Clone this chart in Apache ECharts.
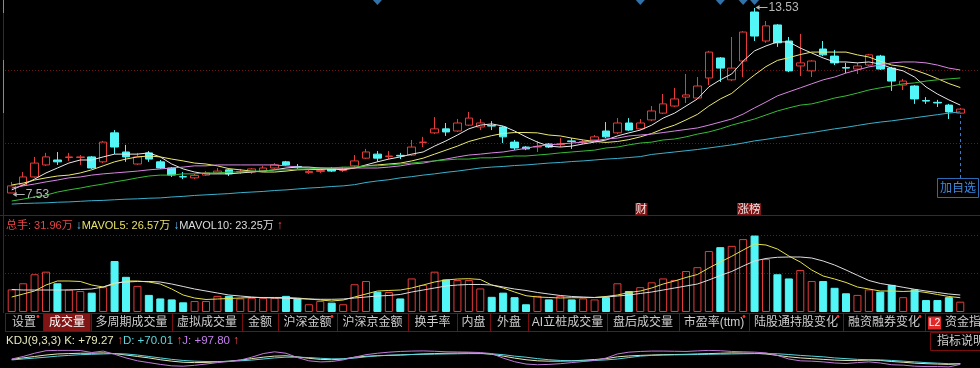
<!DOCTYPE html>
<html><head><meta charset="utf-8">
<script src="https://cdn.jsdelivr.net/npm/echarts@6/dist/echarts.min.js"></script>
<style>html,body{margin:0;padding:0;background:#000;overflow:hidden}#c{width:980px;height:368px}</style>
</head><body><div id="c"></div>
<script>
// ---------- data ----------
// daily candles: [open, close, low, high]
const candles = [
[7.53,7.76,7.53,7.89],[7.79,8.05,7.76,8.21],[8.05,8.50,8.02,8.70],[8.44,8.70,8.41,8.83],[8.60,8.54,8.44,8.86],
[8.68,8.70,8.57,8.83],[8.68,8.70,8.44,8.76],[8.70,8.34,8.31,8.73],[8.54,9.18,8.50,9.22],[9.48,9.02,8.79,9.57],
[8.86,8.70,8.54,9.09],[8.47,8.70,8.44,8.83],[8.83,8.63,8.54,8.89],[8.54,8.34,8.31,8.60],[8.34,8.11,8.05,8.37],
[8.06,8.05,7.98,8.21],[8.02,8.10,7.98,8.15],[8.11,8.18,8.08,8.24],[8.18,8.24,8.15,8.34],[8.28,8.15,8.08,8.31],
[8.21,8.23,8.15,8.31],[8.21,8.31,8.15,8.34],[8.24,8.34,8.21,8.41],[8.34,8.44,8.31,8.50],[8.54,8.44,8.41,8.57],
[8.39,8.37,8.31,8.47],[8.19,8.23,8.15,8.28],[8.23,8.26,8.18,8.34],[8.31,8.24,8.21,8.37],[8.26,8.29,8.21,8.37],
[8.41,8.57,8.37,8.76],[8.66,8.86,8.63,8.96],[8.79,8.66,8.54,8.89],[8.71,8.73,8.63,8.89],[8.75,8.73,8.63,8.83],
[8.76,9.02,8.73,9.25],[9.17,9.18,9.02,9.35],[9.48,9.61,9.44,9.99],[9.61,9.51,9.38,9.80],[9.54,9.80,9.51,9.93],
[9.73,9.96,9.70,10.16],[9.67,9.80,9.57,9.93],[9.72,9.70,9.57,9.86],[9.67,9.35,9.15,9.70],[9.18,8.99,8.92,9.25],
[9.02,8.96,8.92,9.05],[9.02,9.04,8.86,9.22],[9.12,9.02,8.99,9.15],[9.10,9.12,9.02,9.31],[9.22,9.20,8.96,9.31],
[9.17,9.20,9.12,9.25],[9.25,9.35,9.22,9.41],[9.54,9.35,9.31,9.83],[9.48,9.80,9.44,9.96],[9.80,9.57,9.54,9.96],
[9.61,9.80,9.57,9.93],[9.90,10.19,9.86,10.35],[10.12,10.42,10.09,10.74],[10.35,10.58,10.32,10.94],[10.64,10.71,10.45,11.39],
[10.61,11.00,10.58,11.29],[11.26,12.10,11.03,12.14],[11.91,11.58,11.13,11.94],[11.20,11.58,11.16,12.59],[11.81,12.75,11.29,12.78],
[13.40,12.62,12.46,13.53],[12.46,12.95,12.40,13.11],[12.98,12.40,12.27,13.01],[12.46,11.49,11.45,12.59],[11.65,11.75,11.32,12.69],
[11.49,11.81,11.29,11.84],[12.20,12.01,11.97,12.46],[11.97,11.75,11.68,12.17],[11.60,11.58,11.42,11.75],[11.55,11.65,11.39,11.75],
[11.68,12.01,11.65,12.04],[11.97,11.55,11.52,12.01],[11.58,11.16,10.84,11.62],[11.03,11.16,10.87,11.23],[11.00,10.58,10.42,11.03],
[10.53,10.51,10.42,10.64],[10.47,10.45,10.32,10.55],[10.38,10.16,9.93,10.42],[10.12,10.25,10.09,10.29]
];
const ma5 = [7.63,7.79,7.98,8.18,8.34,8.50,8.60,8.60,8.70,8.79,8.79,8.79,8.83,8.70,8.47,8.31,8.21,8.15,8.15,8.15,8.18,8.21,8.24,8.28,8.34,8.37,8.37,8.34,8.31,8.28,8.34,8.44,8.54,8.63,8.70,8.79,8.86,9.05,9.22,9.41,9.61,9.73,9.77,9.70,9.54,9.35,9.18,9.05,9.02,9.05,9.12,9.18,9.25,9.38,9.48,9.57,9.73,9.96,10.12,10.35,10.58,10.97,11.20,11.39,11.81,12.14,12.30,12.43,12.43,12.23,12.07,11.91,11.78,11.78,11.75,11.78,11.71,11.58,11.49,11.29,10.97,10.74,10.55,10.38];
const ma10 = [7.79,7.85,7.95,8.02,8.08,8.11,8.18,8.28,8.41,8.54,8.63,8.70,8.73,8.70,8.63,8.57,8.50,8.47,8.41,8.32,8.28,8.24,8.21,8.21,8.24,8.28,8.29,8.29,8.31,8.31,8.34,8.41,8.44,8.47,8.50,8.57,8.66,8.79,8.92,9.05,9.20,9.30,9.39,9.46,9.49,9.49,9.48,9.41,9.38,9.31,9.25,9.20,9.17,9.20,9.26,9.35,9.46,9.61,9.73,9.90,10.08,10.35,10.58,10.76,11.07,11.36,11.63,11.83,11.92,12.02,12.10,12.10,12.10,12.10,12.01,11.94,11.80,11.68,11.63,11.52,11.39,11.24,11.08,10.95];
const ma20 = [7.69,7.76,7.82,7.89,7.95,8.02,8.05,8.11,8.15,8.18,8.21,8.24,8.28,8.31,8.34,8.37,8.41,8.41,8.44,8.44,8.44,8.44,8.44,8.44,8.41,8.37,8.34,8.34,8.34,8.34,8.34,8.34,8.34,8.37,8.41,8.47,8.50,8.57,8.63,8.70,8.76,8.79,8.83,8.86,8.92,8.98,9.05,9.09,9.12,9.15,9.18,9.22,9.28,9.31,9.38,9.41,9.44,9.49,9.54,9.59,9.64,9.73,9.83,9.93,10.09,10.29,10.48,10.68,10.81,10.94,11.07,11.20,11.29,11.42,11.52,11.62,11.68,11.75,11.78,11.78,11.75,11.68,11.58,11.52];
const ma30 = [7.27,7.33,7.40,7.46,7.56,7.63,7.69,7.76,7.82,7.89,7.95,8.02,8.08,8.11,8.11,8.15,8.15,8.18,8.18,8.21,8.21,8.24,8.24,8.28,8.28,8.31,8.31,8.34,8.34,8.37,8.37,8.41,8.41,8.44,8.47,8.50,8.54,8.57,8.60,8.63,8.63,8.67,8.67,8.70,8.73,8.73,8.76,8.79,8.83,8.86,8.89,8.92,8.99,9.02,9.09,9.15,9.18,9.25,9.28,9.35,9.44,9.51,9.61,9.73,9.83,9.93,10.06,10.19,10.29,10.38,10.42,10.51,10.61,10.68,10.77,10.87,10.94,11.00,11.07,11.10,11.16,11.20,11.23,11.26];
const ma60 = [7.17,7.19,7.20,7.21,7.23,7.24,7.26,7.28,7.29,7.31,7.33,7.34,7.36,7.37,7.40,7.42,7.45,7.47,7.49,7.51,7.54,7.56,7.58,7.61,7.63,7.66,7.69,7.71,7.74,7.76,7.80,7.87,7.92,7.96,8.02,8.06,8.11,8.15,8.20,8.24,8.29,8.34,8.37,8.39,8.42,8.44,8.47,8.50,8.52,8.55,8.57,8.60,8.63,8.65,8.68,8.71,8.78,8.82,8.86,8.90,8.94,8.99,9.04,9.09,9.15,9.22,9.27,9.33,9.38,9.44,9.49,9.55,9.61,9.66,9.72,9.78,9.83,9.87,9.92,9.97,10.02,10.07,10.12,10.16];
// volume, 万手
const volumes = [70,89,117,125,89,70,65,60,77,158,109,81,53,42,39,30,34,34,50,50,42,44,44,44,50,42,24,34,29,24,86,96,63,62,42,104,84,125,101,99,99,73,47,60,46,24,50,39,50,39,42,39,46,89,65,77,92,104,99,127,139,189,201,205,226,237,164,117,104,130,96,96,75,58,53,70,63,84,46,70,37,37,46,31.96];
const mavol5 = [46.5,55.8,65.1,83.7,96.1,96.1,94.6,83.7,77.5,86.8,96.1,96.1,93,86.8,71.3,52.7,43.4,38.8,40.3,41.9,43.4,45,45,45,45,43.4,40.3,37.2,34.1,37.2,46.5,55.8,65.1,66.7,68.2,74.4,83.7,93,99.2,102.3,103.2,100.8,83.7,74.4,62,50.5,46.5,45,43.4,44.3,44.3,45,48.1,52.7,60.5,65.1,74.4,86.8,96.1,107,116.3,136.4,155,172.7,192.2,210.8,207.7,195.3,173.6,155,130.2,111.6,102.3,91.5,77.5,71.3,65.1,65.1,63.6,65.1,60.5,54.3,48.1,44.3];
const mavol10 = [69.8,68.2,68.2,68.2,68.2,68.2,69.8,71.3,77.5,89.9,93,94.6,94.6,93,86.8,79.1,71.3,65.1,58.9,52.7,49.6,46.5,44.3,43.4,42.5,41.2,40.3,39.4,39.4,40.3,43.4,46.5,49.6,51.2,54.3,62,68.2,74.4,80.6,83.7,85.3,85.3,83.7,77.5,71.3,66.7,60.5,55.8,51.2,48.1,46.5,45,46.5,49.6,52.7,57.4,62,68.2,74.4,80.6,86.8,99.2,113.2,125.6,142.6,158.1,165.9,169.6,170.5,170.5,167.4,158.1,145.7,130.2,113.8,97.7,88.4,82.8,76.6,70.4,65.1,60.5,55.8,52.7];
// KDJ(9,3,3)
const kdjK = [48,56,64,72,78,80,82,82,84,80,72,64,56,46,38,32,30,31,34,38,44,52,60,66,68,62,54,48,46,50,60,65,68,70,72,75,78,80,82,83,84,82,76,66,55,46,40,38,38,40,43,47,52,62,67,70,72,74,75,76,78,80,82,84,83,82,78,70,62,56,52,48,44,42,42,44,42,36,32,27,24,22,20,24];
const kdjD = [45,50,55,60,66,70,74,76,78,80,78,72,64,56,48,42,38,36,36,37,40,44,50,56,60,60,58,54,51,51,55,62,68,71,73,75,76,77,78,79,80,80,79,74,66,60,52,46,42,40,40,42,45,50,58,66,70,72,73,74,75,76,77,78,79,80,80,79,75,70,66,62,56,52,48,46,45,42,38,34,30,27,24,24];
const kdjJ = [50,64,82,96,98,98,97,86,94,76,56,40,30,20,12,10,15,22,30,36,44,60,80,90,82,58,40,34,36,45,60,74,82,88,92,94,95,93,90,89,88,86,80,55,35,22,18,20,24,30,36,42,55,78,88,92,94,94,93,92,95,98,96,92,90,88,84,70,50,40,38,34,28,25,30,34,28,18,16,10,8,8,6,20];
const newsDays = [32,55,62,64,65];
const eventTags = [{day:55,text:'财'},{day:64,text:'涨榜'}];
const priceGridLines = [11.52, 9.15];
const volGridLines = [238.7, 120.9];
const volHeader = {total:'31.96万', mavol5:'26.57万', mavol10:'23.25万'};
const kdjHeader = {k:'+79.27', d:'+70.01', j:'+97.80'};
const tabNames = ['设置','成交量','多周期成交量','虚拟成交量','金额','沪深金额','沪深京金额','换手率','内盘','外盘','AI立桩成交量','盘后成交量','市盈率(ttm)','陆股通持股变化','融资融券变化'];
const tabDots = [true,false,false,false,false,true,false,false,false,false,false,false,true,true,true];
const activeTab = 1;

// ---------- layout / style ----------
const tabEdges = [5,43,91,172,242,278,337,408,457,490,528,607,679,749,843,925];
const FONT = "'Liberation Sans','Noto Sans CJK SC',sans-serif";
const RED = '#e63b3b', CYAN = '#52f6f6', DK = '#7a0e0e';
const PMAX = 13.7895, PMIN = 6.8158, VMAX = 297.6;

const days = candles.map((_, i) => String(i + 1));
const chart = echarts.init(document.getElementById('c'), null, {width:980, height:368});

const volData = volumes.map((v, i) => {
  const up = candles[i][1] >= candles[i][0];
  return {value: v, itemStyle: up ? {color:'transparent', borderColor:RED, borderWidth:1} : {color:CYAN, borderColor:CYAN, borderWidth:1}};
});
const lineS = (name, data, color, g) => ({name, type:'line', data, xAxisIndex:g, yAxisIndex:g, symbol:'none', smooth:false, z:4, silent:true,
  lineStyle:{color, width:1}, itemStyle:{color}});

const rich = (c, s, w) => ({color:c, fontSize:s, fontFamily:FONT, fontWeight:w||'normal', lineHeight:14});
const option = {
  backgroundColor:'#000',
  animation:false,
  title:[
    {left:6, top:219, padding:0,
     text:`{r|总手: ${volHeader.total}} {b|↓}{y|MAVOL5: ${volHeader.mavol5}} {b|↓}{w|MAVOL10: ${volHeader.mavol10}} {u|↑}`,
     textStyle:{fontSize:11, fontWeight:'normal', rich:{r:rich('#e64646',11), b:rich('#5ec0f8',12,'bold'), y:rich('#e8e06a',11), w:rich('#dcdcdc',11), u:rich('#ff4a4a',12,'bold')}}},
    {left:6, top:334, padding:0,
     text:`{a|KDJ(9,3,3) K: ${kdjHeader.k}} {u|↑}{d|D: ${kdjHeader.d}} {u|↑}{j|J: ${kdjHeader.j}} {u|↑}`,
     textStyle:{fontSize:11.5, fontWeight:'normal', rich:{a:rich('#e8e8bc',11.5), d:rich('#5ed8dc',11.5), j:rich('#c480ea',11.5), u:rich('#ff4a4a',12,'bold')}}}
  ],
  grid:[
    {left:6, right:14, top:0, height:215},
    {left:6, right:14, top:216, height:96},
    {left:6, right:14, top:350, height:50}
  ],
  xAxis:[0,1,2].map(g => ({type:'category', gridIndex:g, data:days, boundaryGap:true, show:false})),
  yAxis:[
    {gridIndex:0, min:PMIN, max:PMAX, show:false},
    {gridIndex:1, min:0, max:VMAX, show:false},
    {gridIndex:2, min:0, max:100, show:false}
  ],
  series:[
    {type:'candlestick', data:candles, xAxisIndex:0, yAxisIndex:0, barWidth:8, z:3, silent:true,
     itemStyle:{color:'transparent', color0:CYAN, borderColor:RED, borderColor0:CYAN, borderWidth:1}},
    lineS('MA5', ma5, '#e8e8e8', 0),
    lineS('MA10', ma10, '#ece872', 0),
    lineS('MA20', ma20, '#d886e2', 0),
    lineS('MA30', ma30, '#36bc36', 0),
    lineS('MA60', ma60, '#3ab0cc', 0),
    {type:'scatter', xAxisIndex:0, yAxisIndex:0, clip:false, silent:true, symbol:'diamond', symbolSize:[9,10], z:6,
     itemStyle:{color:'#3d8fd6'}, data:newsDays.map(d => [d, PMAX])},
    {type:'bar', data:volData, xAxisIndex:1, yAxisIndex:1, barWidth:8, z:2, silent:true},
    lineS('MAVOL5', mavol5, '#e4e04c', 1),
    lineS('MAVOL10', mavol10, '#dedede', 1),
    lineS('K', kdjK, '#e6e6b4', 2),
    lineS('D', kdjD, '#58d6e0', 2),
    lineS('J', kdjJ, '#c07ad8', 2)
  ]
};
chart.setOption(option);

// ---------- overlay elements placed through the chart's own scales ----------
const P = (g, i, v) => chart.convertToPixel({xAxisIndex:g, yAxisIndex:g}, [i, v]);
const els = [];
const ln = (x1,y1,x2,y2,stroke,dash,z) => els.push({type:'line', silent:true, z:z||1, shape:{x1,y1,x2,y2}, style:{stroke, lineWidth:1, lineDash:dash||null}});
const tx = (x,y,str,fill,size,align) => els.push({type:'text', silent:true, z:30, x, y,
  style:{text:str, fill, font:size+'px '+FONT, fontSize:size, fontFamily:FONT, textAlign:align||'left', align:align||'left', textVerticalAlign:'middle', verticalAlign:'middle'}});
const rc = (x,y,w,h,fill,stroke,z) => els.push({type:'rect', silent:true, z:z||20, shape:{x,y,width:w,height:h}, style:{fill:fill||'none', stroke:stroke||null, lineWidth:1}});

// panel separators and borders
ln(0,215.5,980,215.5,DK,null,25);
ln(3.5,13,3.5,60,DK,null,25); ln(3.5,113,3.5,313,DK,null,25);
ln(3.5,0,3.5,13,'#8a8a8a',null,25); ln(3.5,60,3.5,113,'#8a8a8a',null,25);
// dotted grid lines
priceGridLines.forEach(v => { const y = Math.round(P(0,0,v)[1]) + 0.5; ln(5,y,980,y,'#6e1414',[1,2]); });
volGridLines.forEach(v => { const y = Math.round(P(1,0,v)[1]) + 0.5; ln(5,y,980,y,'#6e1414',[1,2]); });

// high / low labels
let hi = 0, lo = 0;
candles.forEach((c, i) => { if (c[3] > candles[hi][3]) hi = i; if (c[2] < candles[lo][2]) lo = i; });
const arrowLabel = (pt, val, dy) => {
  const x = pt[0], y = Math.round(pt[1]) + dy + 0.5;
  ln(x+3, y, x+13, y, '#b4b4b4', null, 30);
  els.push({type:'polygon', silent:true, z:30, shape:{points:[[x+1,y],[x+5,y-2.5],[x+5,y+2.5]]}, style:{fill:'#b4b4b4'}});
  tx(x+14, y, val.toFixed(2), '#b8b8b8', 12);
};
arrowLabel(P(0, hi, candles[hi][3]), candles[hi][3], -1);
arrowLabel(P(0, lo, candles[lo][2]), candles[lo][2], 1);

// event tags at bottom of price panel
const band = P(0,1,PMAX)[0] - P(0,0,PMAX)[0];
eventTags.forEach(t => {
  const x0 = Math.round(P(0, t.day, PMAX)[0] - band/2);
  const w = t.text.length * 11.5 + 1;
  rc(x0, 203, w, 12, '#7c1616', null, 22);
  tx(x0 + w/2, 209.5, t.text, '#f2dede', 11.5, 'center');
});

// last price dashed guide and 加自选 box
const last = candles.length - 1;
const lp = P(0, last, candles[last][2]);
ln(Math.round(lp[0]) + 0.5, lp[1] + 1, Math.round(lp[0]) + 0.5, 178, '#3a7cc8', [3,3], 26);
rc(937.5, 178.5, 41, 19, '#000', '#2d6ab4', 27);
tx(958, 188.5, '加自选', '#3f88dc', 12, 'center');

// tab bar
ln(5,313.5,980,313.5,DK,null,25);
ln(5,331.5,980,331.5,DK,null,25);
rc(tabEdges[activeTab]+0.5, 314, tabEdges[activeTab+1]-tabEdges[activeTab]-1, 17, '#811515', null, 24);
tabEdges.forEach(x => ln(x+0.5,313.5,x+0.5,331.5,DK,null,25));
tabNames.forEach((name, k) => {
  const a = tabEdges[k], b = tabEdges[k+1];
  tx((a+b)/2, 323, name, k === activeTab ? '#ffffff' : '#cccccc', 12, 'center');
  if (tabDots[k]) els.push({type:'circle', silent:true, z:30, shape:{cx:b-5, cy:316.5, r:1.4}, style:{fill:'#ff3030'}});
});
rc(928, 316.5, 13, 13, '#e02828', null, 26);
tx(934.5, 323, 'L2', '#ffffff', 10.5, 'center');
tx(945, 323, '资金指标', '#cccccc', 12);
// 指标说明 box
rc(930.5, 332.5, 60, 18, '#000', DK, 26);
tx(937, 341.5, '指标说明', '#d0d0d0', 12);

chart.setOption({graphic:{elements:els}});
</script>
</body></html>
